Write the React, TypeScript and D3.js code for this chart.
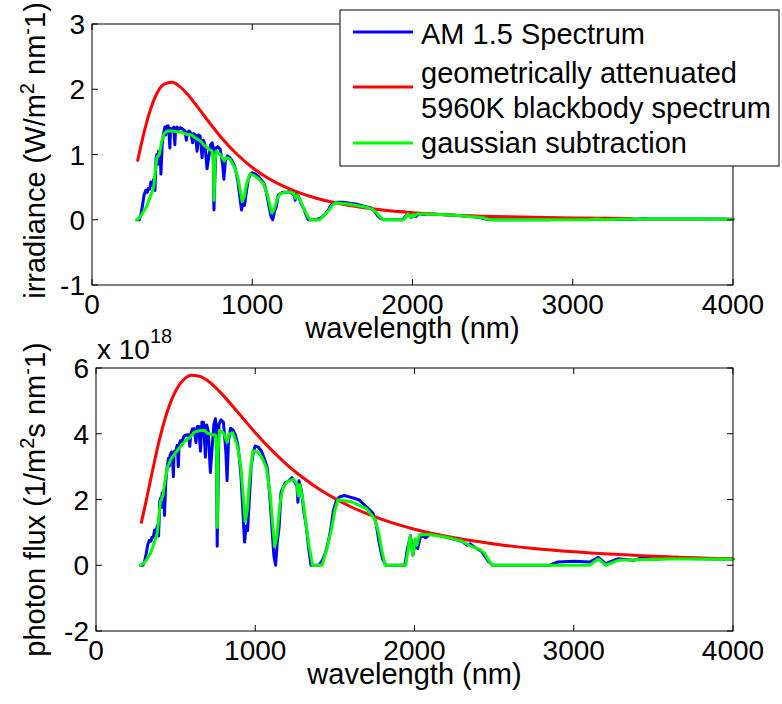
import React from "react";
import * as d3 from "d3";

// ---------- DATA ----------
const xTicks = [0, 1000, 2000, 3000, 4000];
const topYTicks = [-1, 0, 1, 2, 3];
const botYTicks = [-2, 0, 2, 4, 6];

const legendLabels = ["AM 1.5 Spectrum", "geometrically attenuated", "5960K blackbody spectrum", "gaussian subtraction"];

// AM 1.5 spectrum (blue)
const blueWl = [280, 295, 305, 315, 325, 335, 345, 350, 360, 368, 375, 385, 393, 400, 405, 410, 415, 425, 430, 438, 445, 455, 460, 465, 475, 480, 486, 490, 500, 510, 517, 522, 530, 540, 550, 560, 570, 580, 589, 595, 605, 615, 628, 635, 645, 656, 665, 675, 687, 695, 705, 718, 728, 740, 750, 756, 761, 766, 772, 785, 800, 815, 823, 832, 845, 860, 875, 890, 900, 910, 920, 933, 942, 952, 962, 975, 990, 1000, 1020, 1040, 1060, 1075, 1090, 1105, 1117, 1128, 1138, 1150, 1162, 1175, 1190, 1210, 1230, 1250, 1262, 1268, 1275, 1290, 1305, 1320, 1335, 1350, 1400, 1420, 1440, 1460, 1475, 1490, 1510, 1530, 1560, 1590, 1620, 1650, 1680, 1710, 1740, 1760, 1780, 1800, 1820, 1940, 1955, 1975, 1990, 2005, 2020, 2040, 2070, 2100, 2150, 2200, 2250, 2300, 2330, 2350, 2380, 2420, 2460, 2490, 2850, 2900, 3000, 3100, 3154, 3200, 3280, 3376, 3437, 3500, 3563, 3647, 3710, 3800, 3900, 4000];
const blueIrr = [0, 0, 0.08, 0.22, 0.38, 0.45, 0.42, 0.48, 0.47, 0.58, 0.52, 0.62, 0.45, 0.95, 1.0, 0.85, 1.05, 1.05, 0.7, 1.15, 1.3, 1.42, 1.3, 1.43, 1.44, 1.35, 1.1, 1.4, 1.38, 1.42, 1.15, 1.4, 1.42, 1.38, 1.41, 1.4, 1.38, 1.36, 1.22, 1.33, 1.36, 1.34, 1.18, 1.32, 1.3, 1.05, 1.3, 1.28, 0.95, 1.22, 1.15, 0.78, 0.95, 1.15, 1.18, 1.1, 0.15, 0.55, 1.1, 1.12, 1.08, 0.85, 0.62, 0.9, 0.98, 0.95, 0.9, 0.82, 0.72, 0.6, 0.4, 0.15, 0.25, 0.22, 0.4, 0.62, 0.7, 0.72, 0.7, 0.66, 0.6, 0.55, 0.4, 0.2, 0.05, 0, 0.12, 0.2, 0.38, 0.4, 0.42, 0.42, 0.43, 0.4, 0.38, 0.3, 0.4, 0.35, 0.25, 0.18, 0.08, 0, 0, 0.02, 0.05, 0.1, 0.15, 0.22, 0.26, 0.27, 0.27, 0.26, 0.25, 0.24, 0.22, 0.2, 0.18, 0.14, 0.07, 0.02, 0, 0, 0.05, 0.09, 0.03, 0.07, 0.05, 0.09, 0.08, 0.09, 0.085, 0.077, 0.07, 0.062, 0.052, 0.055, 0.045, 0.035, 0.012, 0, 0, 0.0068, 0.008, 0.0064, 0.0151, 0.003, 0.0121, 0.0088, 0.0139, 0.0102, 0.0111, 0.0131, 0.0112, 0.0105, 0.0097, 0.0094];
const blueFlux = [0, 0, 0.123, 0.349, 0.622, 0.759, 0.73, 0.846, 0.852, 1.075, 0.982, 1.202, 0.89, 1.913, 2.039, 1.755, 2.194, 2.247, 1.516, 2.536, 2.913, 3.253, 3.011, 3.348, 3.444, 3.263, 2.692, 3.454, 3.474, 3.646, 2.994, 3.68, 3.789, 3.752, 3.905, 3.947, 3.96, 3.972, 3.618, 3.984, 4.143, 4.149, 3.731, 4.22, 4.222, 3.468, 4.353, 4.35, 3.286, 4.269, 4.082, 2.82, 3.482, 4.285, 4.456, 4.187, 0.575, 2.121, 4.276, 4.427, 4.35, 3.488, 2.569, 3.77, 4.17, 4.114, 3.965, 3.675, 3.263, 2.749, 1.853, 0.705, 1.186, 1.055, 1.937, 3.044, 3.489, 3.625, 3.595, 3.456, 3.202, 2.977, 2.195, 1.113, 0.281, 0, 0.688, 1.158, 2.223, 2.366, 2.517, 2.559, 2.663, 2.518, 2.415, 1.915, 2.568, 2.273, 1.643, 1.196, 0.538, 0, 0, 0.143, 0.363, 0.735, 1.114, 1.65, 1.977, 2.08, 2.121, 2.081, 2.039, 1.994, 1.861, 1.722, 1.577, 1.241, 0.627, 0.181, 0, 0, 0.492, 0.895, 0.301, 0.707, 0.509, 0.924, 0.834, 0.952, 0.92, 0.853, 0.793, 0.718, 0.61, 0.651, 0.539, 0.426, 0.149, 0, 0, 0.099, 0.121, 0.1, 0.24, 0.048, 0.2, 0.15, 0.241, 0.18, 0.199, 0.241, 0.209, 0.201, 0.19, 0.189];

// gaussian subtraction (green)
const greenWl = [280, 300, 320, 340, 355, 370, 385, 395, 405, 420, 435, 450, 470, 500, 530, 560, 590, 620, 650, 680, 700, 730, 750, 757, 762, 767, 775, 800, 825, 835, 860, 890, 910, 925, 937, 950, 965, 985, 1010, 1040, 1070, 1095, 1110, 1122, 1135, 1155, 1175, 1200, 1240, 1262, 1270, 1280, 1300, 1320, 1340, 1360, 1420, 1450, 1480, 1500, 1520, 1560, 1600, 1650, 1700, 1750, 1775, 1795, 1815, 1945, 1972, 1990, 2005, 2015, 2030, 2060, 2100, 2200, 2290, 2350, 2410, 2440, 2470, 2490, 3100, 3154, 3200, 3280, 3400, 3600, 3800, 4000];
const greenIrr = [0, 0.04, 0.12, 0.2, 0.3, 0.4, 0.5, 0.75, 0.95, 1.0, 1.2, 1.32, 1.36, 1.36, 1.35, 1.34, 1.31, 1.3, 1.25, 1.2, 1.14, 1.08, 1.05, 0.9, 0.3, 0.9, 1.05, 1.0, 0.9, 0.95, 0.93, 0.8, 0.65, 0.45, 0.28, 0.35, 0.55, 0.7, 0.68, 0.63, 0.55, 0.38, 0.22, 0.1, 0.15, 0.32, 0.4, 0.42, 0.42, 0.39, 0.33, 0.38, 0.3, 0.18, 0.08, 0, 0, 0.07, 0.15, 0.22, 0.26, 0.25, 0.24, 0.22, 0.2, 0.16, 0.11, 0.05, 0, 0, 0.09, 0.03, 0.08, 0.06, 0.09, 0.09, 0.088, 0.077, 0.065, 0.05, 0.04, 0.03, 0.01, 0, 0, 0.012, 0, 0.009, 0.01, 0.0105, 0.01, 0.0092];
const greenFlux = [0, 0.06, 0.193, 0.342, 0.536, 0.745, 0.969, 1.492, 1.937, 2.115, 2.628, 2.991, 3.218, 3.424, 3.603, 3.778, 3.892, 4.058, 4.091, 4.109, 4.018, 3.97, 3.965, 3.43, 1.151, 3.476, 4.097, 4.028, 3.739, 3.994, 4.027, 3.585, 2.978, 2.096, 1.321, 1.674, 2.672, 3.472, 3.458, 3.299, 2.963, 2.095, 1.23, 0.565, 0.857, 1.861, 2.366, 2.538, 2.622, 2.478, 2.11, 2.449, 1.964, 1.196, 0.54, 0, 0, 0.511, 1.118, 1.662, 1.99, 1.964, 1.933, 1.828, 1.712, 1.41, 0.983, 0.452, 0, 0, 0.894, 0.301, 0.808, 0.609, 0.92, 0.933, 0.93, 0.853, 0.749, 0.592, 0.485, 0.369, 0.124, 0, 0, 0.191, 0, 0.149, 0.171, 0.19, 0.191, 0.185];

// geometrically attenuated 5960K blackbody (red)
const redWlTop = [285, 300, 325, 350, 375, 400, 450, 500, 550, 600, 650, 700, 750, 800, 900, 1000, 1100, 1200, 1300, 1400, 1600, 1800, 2000, 2250, 2500, 2750, 3000, 3370];
const redIrr = [0.91, 1.075, 1.338, 1.571, 1.763, 1.912, 2.078, 2.106, 2.037, 1.912, 1.757, 1.594, 1.433, 1.281, 1.015, 0.801, 0.635, 0.506, 0.407, 0.329, 0.221, 0.153, 0.109, 0.074, 0.051, 0.037, 0.027, 0.018];
const redWlBot = [285, 300, 325, 350, 375, 400, 450, 500, 550, 600, 650, 700, 750, 800, 900, 1000, 1100, 1200, 1300, 1400, 1600, 1800, 2000, 2250, 2500, 2750, 3000, 3500, 4000];
const redFlux = [1.306, 1.624, 2.19, 2.769, 3.329, 3.851, 4.708, 5.302, 5.641, 5.776, 5.75, 5.618, 5.411, 5.16, 4.599, 4.033, 3.517, 3.057, 2.661, 2.319, 1.78, 1.387, 1.096, 0.834, 0.647, 0.511, 0.411, 0.275, 0.193];

// ---------- LAYOUT ----------
const W = 782;
const H = 704;
const FONT = "'Liberation Sans', Arial, Helvetica, sans-serif";
const FS = 28;
const LFS = 29;
const BLUE = "#0000ff";
const RED = "#ff0000";
const GREEN = "#00ff00";
const LW = 3;

type Series = { wl: number[]; v: number[]; color: string; smooth?: boolean };

function Panel(props: {
  left: number; right: number; top: number; bottom: number;
  yDomain: [number, number]; yTicks: number[]; series: Series[];
}) {
  const { left, right, top, bottom, yDomain, yTicks, series } = props;
  const x = d3.scaleLinear().domain([0, 4000]).range([left, right]);
  const y = d3.scaleLinear().domain(yDomain).range([bottom, top]);
  const TL = 6;
  return (
    <g>
      {series.map((s, i) => {
        const pts = s.wl.map((w, j) => [w, s.v[j]] as [number, number]);
        const line = d3.line<[number, number]>()
          .x((d) => x(d[0]))
          .y((d) => y(d[1]))
          .curve(s.smooth ? d3.curveMonotoneX : d3.curveLinear);
        return (
          <path key={i} d={line(pts) || ""} fill="none" stroke={s.color}
            strokeWidth={LW} strokeLinejoin="round" strokeLinecap="round" />
        );
      })}
      <rect x={left} y={top} width={right - left} height={bottom - top}
        fill="none" stroke="#000" strokeWidth={1} />
      {xTicks.map((t) => (
        <g key={"x" + t}>
          <line x1={x(t)} x2={x(t)} y1={bottom} y2={bottom - TL} stroke="#000" strokeWidth={1} />
          <line x1={x(t)} x2={x(t)} y1={top} y2={top + TL} stroke="#000" strokeWidth={1} />
          <text x={x(t)} y={bottom + 29} textAnchor="middle" fontSize={FS} fontFamily={FONT} fill="#000">{t}</text>
        </g>
      ))}
      {yTicks.map((t) => (
        <g key={"y" + t}>
          <line x1={left} x2={left + TL} y1={y(t)} y2={y(t)} stroke="#000" strokeWidth={1} />
          <line x1={right} x2={right - TL} y1={y(t)} y2={y(t)} stroke="#000" strokeWidth={1} />
          <text x={left - 7} y={y(t)} dy="0.36em" textAnchor="end" fontSize={FS} fontFamily={FONT} fill="#000">{t}</text>
        </g>
      ))}
      <text x={(left + right) / 2} y={bottom + 53} textAnchor="middle" fontSize={LFS} fontFamily={FONT} fill="#000">wavelength (nm)</text>
    </g>
  );
}

export default function App() {
  const top = { left: 92, right: 733, top: 24, bottom: 285 };
  const bot = { left: 96, right: 733, top: 368, bottom: 631 };
  const sup = 20;
  return (
    <svg width={W} height={H} style={{ position: "absolute", left: 0, top: 0, background: "#fff" }}>
      <rect x={0} y={0} width={W} height={H} fill="#fff" />
      <Panel {...top} yDomain={[-1, 3]} yTicks={topYTicks}
        series={[
          { wl: blueWl, v: blueIrr, color: BLUE },
          { wl: redWlTop, v: redIrr, color: RED, smooth: true },
          { wl: greenWl, v: greenIrr, color: GREEN },
        ]} />
      <Panel {...bot} yDomain={[-2, 6]} yTicks={botYTicks}
        series={[
          { wl: blueWl, v: blueFlux, color: BLUE },
          { wl: redWlBot, v: redFlux, color: RED, smooth: true },
          { wl: greenWl, v: greenFlux, color: GREEN },
        ]} />

      {/* y labels */}
      <text transform={`translate(45,${(top.top + top.bottom) / 2 - 4}) rotate(-90)`} textAnchor="middle"
        fontSize={LFS} fontFamily={FONT} fill="#000">
        irradiance (W/m<tspan dy={-11} fontSize={sup}>2</tspan><tspan dy={11}> nm</tspan><tspan dy={-11} fontSize={sup}>-</tspan><tspan dy={11}>1)</tspan>
      </text>
      <text transform={`translate(45,${(bot.top + bot.bottom) / 2}) rotate(-90)`} textAnchor="middle"
        fontSize={LFS} fontFamily={FONT} fill="#000">
        photon flux (1/m<tspan dy={-11} fontSize={sup}>2</tspan><tspan dy={11}>s nm</tspan><tspan dy={-11} fontSize={sup}>-</tspan><tspan dy={11}>1)</tspan>
      </text>

      {/* exponent */}
      <text x={97} y={359} fontSize={FS} fontFamily={FONT} fill="#000">
        x 10<tspan dy={-16} fontSize={20}>18</tspan>
      </text>

      {/* legend */}
      <g>
        <rect x={340} y={10} width={439} height={156} fill="#fff" stroke="#000" strokeWidth={1} />
        <line x1={353} x2={413} y1={32} y2={32} stroke={BLUE} strokeWidth={LW} />
        <text x={421} y={44} fontSize={LFS} fontFamily={FONT} fill="#000">{legendLabels[0]}</text>
        <line x1={353} x2={413} y1={87} y2={87} stroke={RED} strokeWidth={LW} />
        <text x={421} y={83} fontSize={LFS} fontFamily={FONT} fill="#000">{legendLabels[1]}</text>
        <text x={421} y={118} fontSize={LFS} fontFamily={FONT} fill="#000">{legendLabels[2]}</text>
        <line x1={353} x2={413} y1={143} y2={143} stroke={GREEN} strokeWidth={LW} />
        <text x={421} y={153} fontSize={LFS} fontFamily={FONT} fill="#000">{legendLabels[3]}</text>
      </g>
    </svg>
  );
}
